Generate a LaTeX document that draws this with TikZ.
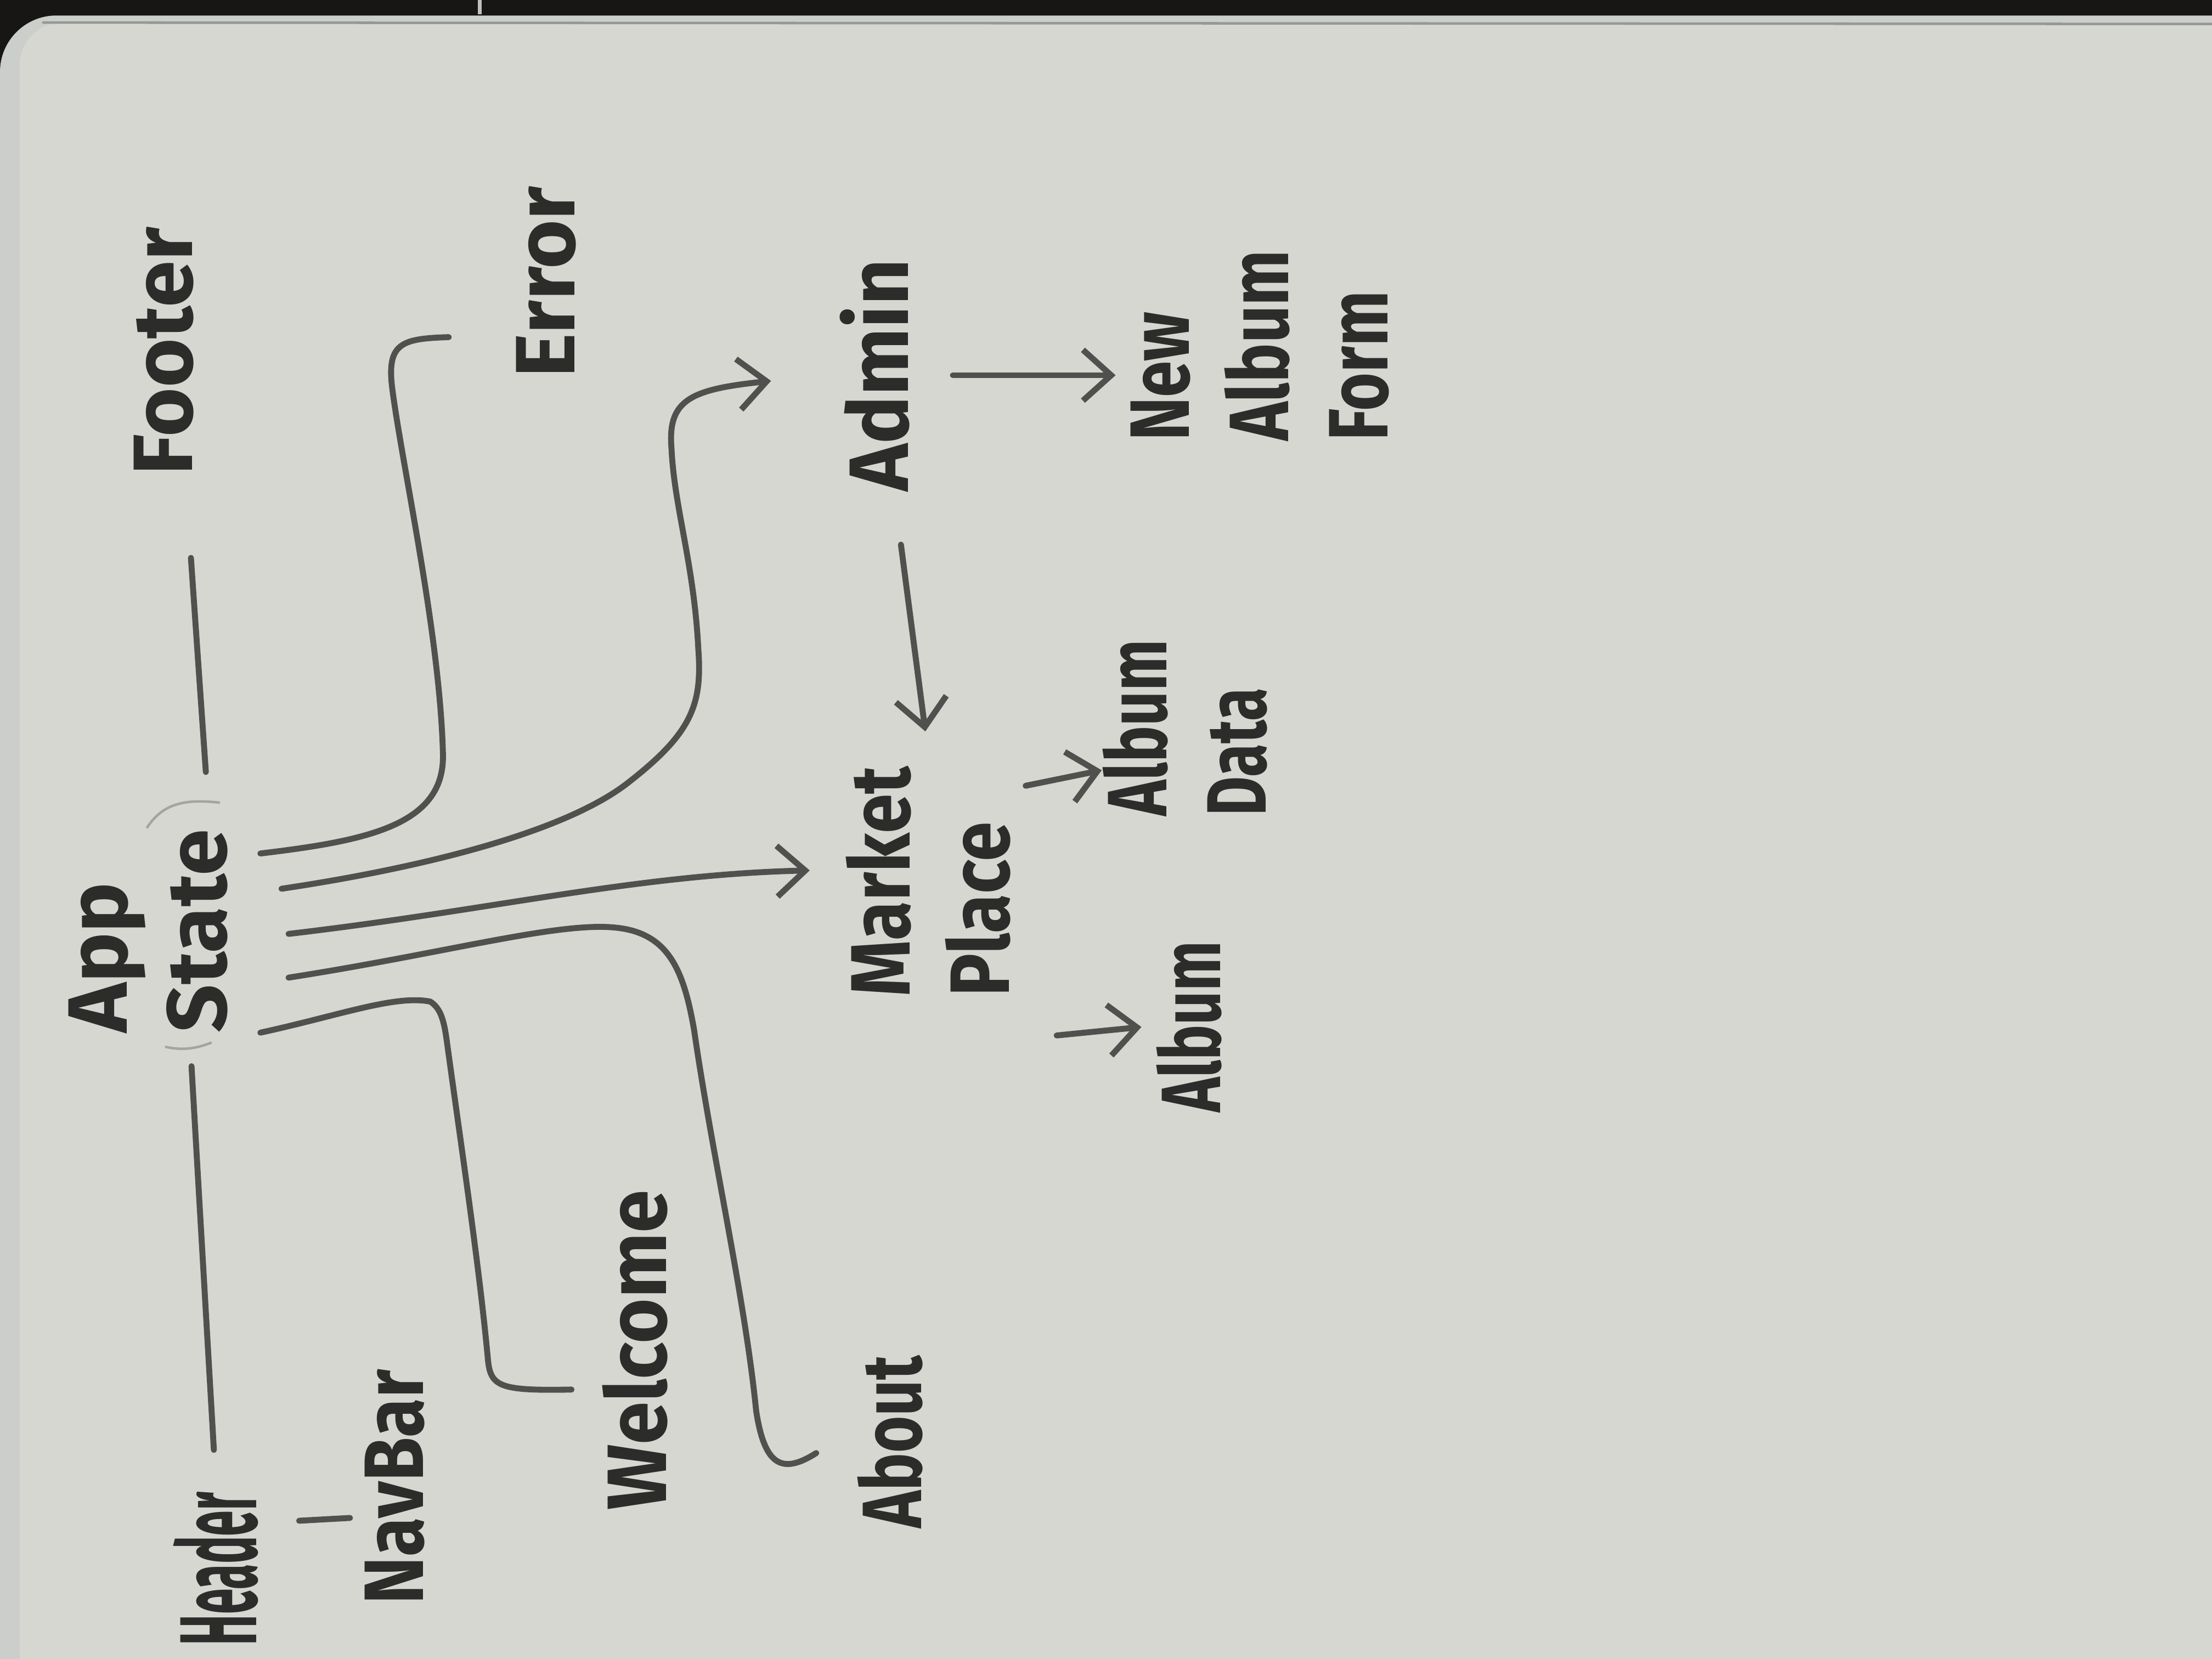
\documentclass[tikz,border=0pt]{standalone}
\usepackage{fontspec}
\setmainfont{Fira Sans}
\usetikzlibrary{arrows.meta}
\definecolor{board}{RGB}{215,215,209}
\definecolor{boardedge}{RGB}{204,206,204}
\definecolor{wall}{RGB}{24,21,21}
\definecolor{rim}{RGB}{150,152,148}
\definecolor{ink}{RGB}{44,44,43}
\definecolor{pen}{RGB}{80,80,78}
\definecolor{trace}{RGB}{165,165,160}
\tikzstyle{word} = [text=ink, font=\bfseries\fontsize{17}{20}\selectfont,
    rotate=90, inner sep=1mm, align=left]
\tikzstyle{stroke} = [draw=pen, line width=1.2pt, line cap=round, line join=round]
\tikzstyle{pointer} = [stroke, -{Straight Barb[length=2mm, width=3.6mm]}]

\begin{document}
\begin{tikzpicture}[x=1mm, y=-1mm]
\useasboundingbox (0,0) rectangle (156.8,117.6);
% whiteboard
\fill[wall] (0,0) rectangle (156.8,117.6);
\fill[boardedge, rounded corners=4mm] (0,1.1) rectangle (162,124);
\fill[board, rounded corners=3mm] (1.4,1.6) rectangle (162,124);
\draw[rim, line width=0.5pt] (3,1.6) -- (156.8,1.7);
\draw[rim!60!white, line width=0.8pt] (34,0) -- (34,1);

\node[word] (app) at (10.5,66) {App\\State};
\node[word, xscale=0.55, yscale=1.3] (header) at (15.3,111.2) {Header};
\node[word, xscale=0.85] (navbar) at (28,105.4) {NavBar};
\node[word, xscale=0.92] (welcome) at (45,95.7) {Welcome};
\node[word, xscale=0.75] (about) at (63.1,102.2) {About};
\node[word] (footer) at (11.6,24.9) {Footer};
\node[word] (error) at (38.7,20) {Error};
\node[word, xscale=0.95] (admin) at (62,26.6) {Admin};
\node[word, xscale=0.85] (market) at (65.8,62.5) {Market\\Place};
\node[word, xscale=0.78] (newform) at (89.3,24.5) {New\\Album\\Form};
\node[word, xscale=0.72] (albumdata) at (84,51.6) {Album\\Data};
\node[word, xscale=0.7] (album) at (84.3,72.8) {Album};

% circle round State
\draw[trace, line width=0.5pt] (10.4,58.7) .. controls (11.5,57) and (13,56.6) .. (15.6,56.9);
\draw[trace, line width=0.5pt] (11.7,74.2) .. controls (13,74.5) and (14,74.3) .. (15,73.9);

\draw[stroke, shorten <=2.4mm, shorten >=1.3mm] (header.east) -- ([xshift=3mm]app.west);
\draw[stroke, shorten <=4.8mm, shorten >=3mm] ([xshift=1.6mm]footer.west) -- ([xshift=4.3mm]app.east);
\draw[stroke] ([shift={(1.5,-3.4)}]header.south) -- ([shift={(0,2.2)}]navbar.north);

% branches out of App State
\draw[stroke] ([shift={(1.25,-5.5)}]app.south) .. controls (26,59.6) and (31.5,58.5) .. (31.4,53.5)
    .. controls (31.2,45) and (28.5,33) .. (27.8,27.5)
    .. controls (27.4,24.3) and (28.5,24) .. ([shift={(-3.7,3.9)}]error.north);
\draw[pointer] ([shift={(2.75,-3)}]app.south) .. controls (30,61.5) and (40,59) .. (44.5,55.5)
    .. controls (49,52) and (49.8,50) .. (49.5,46)
    .. controls (49.2,40) and (47.8,36) .. (47.6,31.8)
    .. controls (47.3,28.3) and (49,27.6) .. ([shift={(-3.8,0.4)}]admin.north);
\draw[pointer] ([shift={(3.25,0.2)}]app.south) .. controls (35,64.5) and (45,62)
    .. ([shift={(-1.5,-0.8)}]market.north);
\draw[stroke] ([shift={(3.25,3.3)}]app.south) .. controls (32,67.5) and (40,65.2) .. (44,65.8)
    .. controls (47.5,66.3) and (48.5,69) .. (49.2,73)
    .. controls (50.5,82) and (52.8,92) .. (53.6,100)
    .. controls (54.2,104) and (55.5,104.5) .. ([shift={(-1.85,0.8)}]about.north);
\draw[stroke] ([shift={(1.25,7.2)}]app.south) .. controls (24,72) and (28,70.5) .. (30.5,71)
    .. controls (31.3,71.5) and (31.5,72.5) .. (31.7,74)
    .. controls (32.8,82) and (34,90) .. (34.6,96.5)
    .. controls (34.8,98.3) and (35.5,98.6) .. ([shift={(-1.1,2.8)}]welcome.north);

% pages under Admin and Market Place
\draw[pointer, shorten <=2mm] (admin.south) -- (newform.north |- admin.south);
\draw[pointer, shorten <=2.8mm, shorten >=1.6mm] ([xshift=1.5mm]admin.west) -- (market.east);
\draw[pointer] ([shift={(0,-6.8)}]market.south) -- ([shift={(1,3)}]albumdata.north);
\draw[pointer] ([shift={(2.2,10.9)}]market.south) -- (album.north);
\end{tikzpicture}
\end{document}
